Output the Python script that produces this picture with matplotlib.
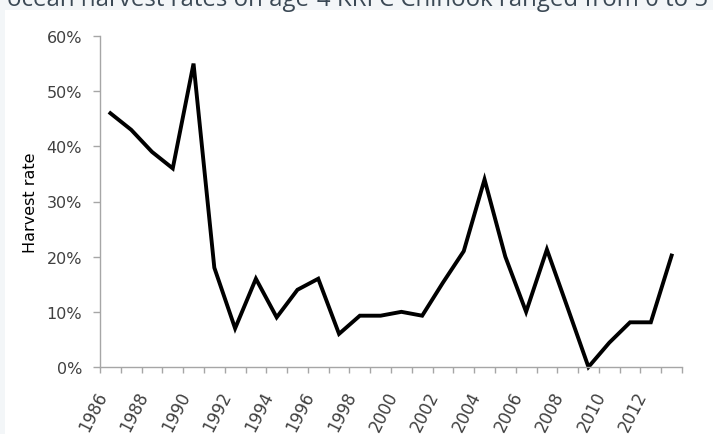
import matplotlib
matplotlib.use('Agg')
import matplotlib.pyplot as plt
from matplotlib.patches import Rectangle

# data
years = list(range(1986, 2014))
harvest_rate = [46, 43, 39, 36, 55, 18, 7, 16, 9, 14, 16, 6, 9.3, 9.3, 10, 9.3,
                15.3, 21, 34, 20, 10, 21.3, 10.7, 0, 4.4, 8.1, 8.1, 20.2]
year_labels = [str(y) if y % 2 == 0 else '' for y in years]
y_ticks = [0, 10, 20, 30, 40, 50, 60]
header = 'ocean harvest rates on age-4 KRFC Chinook ranged from 0 to 5'

W, H = 713, 435
fig = plt.figure(figsize=(W / 100, H / 100), dpi=100)
fig.patch.set_facecolor('#f3f6f8')
fig.patches.append(Rectangle((5 / W, 0), 1, 1 - 11 / H, transform=fig.transFigure,
                             facecolor='white', edgecolor='none', zorder=-10))

# cut-off sentence above the figure
fig.text(7 / W, 1 - 6 / H, header, fontsize=17.3, color='#3b4955',
         family='Open Sans', va='baseline', ha='left')

ax = fig.add_axes([100 / W, 1 - 368 / H, 582 / W, 331 / H])
ax.set_facecolor('none')

x = list(range(len(years)))
ax.plot(x, harvest_rate, color='black', linewidth=2.8, solid_joinstyle='miter',
        clip_on=False)

ax.set_xlim(-0.5, len(years) - 0.5)
ax.set_ylim(0, 60)

# category axis: ticks between categories, labels every other year
ax.set_xticks(x)
ax.set_xticklabels(year_labels, rotation=63, ha='right', rotation_mode='default',
                   fontsize=12, color='#404040')
ax.tick_params(axis='x', length=0, pad=15)
ax.set_xticks([i - 0.5 for i in range(len(years) + 1)], minor=True)
ax.tick_params(axis='x', which='minor', length=4, color='#a6a6a6', width=1)

ax.set_yticks(y_ticks)
ax.set_yticklabels([f'{v}%' for v in y_ticks], fontsize=11.5, color='#404040')
ax.tick_params(axis='y', length=5, color='#a6a6a6', width=1, pad=8)

for side in ('top', 'right'):
    ax.spines[side].set_visible(False)
for side in ('left', 'bottom'):
    ax.spines[side].set_color('#a6a6a6')
    ax.spines[side].set_linewidth(1)

ax.set_ylabel('Harvest rate', fontsize=11.5, color='black', labelpad=6)

fig.savefig('out.png', dpi=100, facecolor=fig.get_facecolor())
